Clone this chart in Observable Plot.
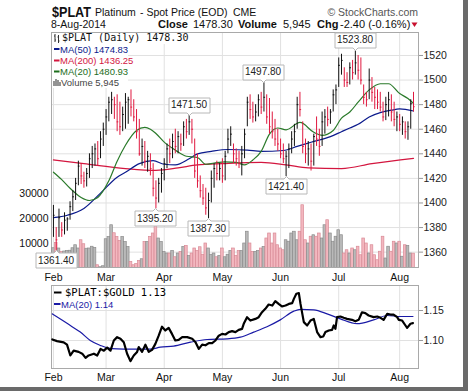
<!DOCTYPE html>
<html><head><meta charset="utf-8">
<script src="https://cdn.jsdelivr.net/npm/d3@7"></script>
<script src="https://cdn.jsdelivr.net/npm/@observablehq/plot@0.6"></script>
<style>
body{margin:0;background:#fff}
#wrap{position:relative;width:468px;height:391px;overflow:hidden;background:#fff}
.layer{position:absolute;left:0}
.layer svg{display:block}
</style></head><body>
<div id="wrap">
 <div id="bg" class="layer" style="top:0"></div>
 <div id="vol" class="layer" style="top:0"></div>
 <div id="px" class="layer" style="top:0"></div>
 <div id="ratio" class="layer" style="top:285px"></div>
 <svg id="ov" class="layer" style="top:0" width="468" height="391" font-family="'Liberation Sans', Arial, sans-serif">
  <!-- header -->
  <text x="52" y="16.5" font-size="14" font-weight="bold" fill="#111" textLength="39" lengthAdjust="spacingAndGlyphs">$PLAT</text>
  <text x="95" y="16" font-size="10.5" fill="#111">Platinum</text>
  <text x="140" y="16" font-size="10.5" fill="#111">- Spot Price (EOD)</text>
  <text x="233" y="16" font-size="10.5" fill="#111">CME</text>
  <text x="418" y="16" font-size="10.5" fill="#555" text-anchor="end">© StockCharts.com</text>
  <text x="51" y="28" font-size="10.5" fill="#111">8-Aug-2014</text>
  <text x="158" y="28" font-size="11" font-weight="bold" fill="#111">Close</text>
  <text x="193" y="28" font-size="11" fill="#111">1478.30</text>
  <text x="238" y="28" font-size="11" font-weight="bold" fill="#111">Volume</text>
  <text x="283" y="28" font-size="11" fill="#111">5,945</text>
  <text x="317" y="28" font-size="11" font-weight="bold" fill="#111">Chg</text>
  <text x="340" y="28" font-size="11" fill="#111">-2.40 (-0.16%)</text>
  <path d="M411.5,22.5 L417.5,22.5 L414.5,27 Z" fill="#c8102e"/>
  <!-- main legend -->
  <rect x="52" y="33" width="140" height="11" fill="#fff"/>
  <rect x="52" y="43" width="76" height="45" fill="#fff"/>
  <path d="M55,34 V42 M54,36 H55 M55,40 H56 M58.5,35 V43 M57.5,37 H58.5 M58.5,41 H59.5" stroke="#333" stroke-width="1" fill="none"/>
  <text x="62" y="40.5" font-family="'DejaVu Sans Mono', monospace" font-size="10" fill="#111">$PLAT (Daily) 1478.30</text>
  <line x1="54" y1="49" x2="59.5" y2="49" stroke="#0b1a8c" stroke-width="2"/>
  <text x="60" y="52.5" font-size="9.5" fill="#0b1a8c">MA(50) 1474.83</text>
  <line x1="54" y1="60.5" x2="59.5" y2="60.5" stroke="#d3163f" stroke-width="2"/>
  <text x="60" y="64" font-size="9.5" fill="#d3163f">MA(200) 1436.25</text>
  <line x1="54" y1="71.5" x2="59.5" y2="71.5" stroke="#1d6e1d" stroke-width="2"/>
  <text x="60" y="75" font-size="9.5" fill="#1d6e1d">MA(20) 1480.93</text>
  <path d="M54,86 V81 M56,86 V79 M58,86 V80 M60,86 V82" stroke="#666" stroke-width="1.4" fill="none"/>
  <text x="61" y="86" font-size="9.5" fill="#444">Volume 5,945</text>
  <!-- ratio legend -->
  <line x1="54" y1="292.5" x2="61.5" y2="292.5" stroke="#000" stroke-width="2"/>
  <text x="65" y="296" font-family="'DejaVu Sans Mono', monospace" font-size="10.5" fill="#000">$PLAT:$GOLD 1.13</text>
  <line x1="54" y1="304" x2="60.5" y2="304" stroke="#1a1aa6" stroke-width="2"/>
  <text x="61" y="307.5" font-size="9.5" fill="#1a1aa6">MA(20) 1.14</text>
  <!-- frame shadow -->
  <rect x="463" y="0" width="5" height="391" fill="#6a6a6a"/>
  <rect x="0" y="387" width="468" height="4" fill="#6a6a6a"/>
 </svg>
</div>
<script>
// ---------- data ----------
const monthStart = [0, 19, 40, 61, 82, 103, 125];
const monthLabels = ["Feb", "Mar", "Apr", "May", "Jun", "Jul", "Aug"];
const priceTicks = [1360, 1380, 1400, 1420, 1440, 1460, 1480, 1500, 1520];
const volumeTicks = [10000, 20000, 30000];
const ratioTicks = [1.10, 1.15];

const high = [1398,1380,1395,1384,1392,1388,1401,1410,1420,1434,1432,1425,1428,1440,1446,1448,1450,1458,1465,
1476,1486,1490,1486,1488,1482,1478,1489,1486,1492,1484,1476,1468,1452,1450,1442,1440,1432,1418,1420,1428,
1436,1448,1452,1456,1460,1458,1456,1466,1468,1471.5,1468,1452,1440,1422,1415,1412,1408,1426,1432,1434,1432,
1436,1442,1460,1462,1448,1444,1442,1446,1460,1486,1488,1482,1480,1488,1490,1497.8,1488,1485,1474,1468,1460,
1452,1448,1442,1448,1458,1464,1486,1490,1466,1452,1450,1448,1456,1470,1460,1474,1476,1478,1476,1492,1496,
1518,1521,1510,1506,1514,1516,1523.8,1520,1518,1496,1490,1509,1502,1494,1492,1490,1482,1486,1490,1488,1482,1474,
1472,1470,1466,1466,1484,1490];
const low = [1372,1361.4,1372,1372,1374,1377,1386,1393,1402,1414,1415,1412,1413,1420,1428,1430,1430,1436,1446,
1455,1466,1472,1468,1458,1455,1458,1460,1464,1470,1466,1452,1438,1430,1428,1425,1422,1405,1395.2,1400,1408,
1418,1428,1432,1436,1440,1440,1442,1446,1452,1455,1448,1420,1412,1404,1398,1390,1387.3,1400,1412,1418,1418,
1416,1418,1440,1446,1432,1430,1428,1422,1436,1462,1468,1465,1466,1470,1472,1474,1464,1456,1452,1446,1442,
1436,1432,1421.4,1428,1440,1446,1460,1470,1440,1432,1430,1426,1430,1446,1438,1446,1456,1462,1464,1474,1480,
1494,1504,1494,1494,1496,1500,1504,1500,1496,1480,1478,1484,1482,1476,1476,1474,1466,1467,1470,1466,1462,1458,
1458,1455,1452,1451,1460,1474];
const close = [1390,1370,1388,1378,1386,1387,1397,1405,1416,1430,1422,1418,1424,1436,1440,1444,1436,1452,1460,
1470,1482,1484,1480,1466,1462,1472,1482,1484,1478,1470,1458,1440,1446,1434,1438,1428,1412,1404,1416,1424,
1432,1444,1440,1450,1446,1454,1448,1462,1458,1466,1460,1426,1418,1410,1404,1396,1402,1420,1428,1424,1428,
1422,1438,1452,1456,1440,1436,1432,1440,1456,1482,1476,1470,1474,1484,1478,1486,1470,1462,1458,1452,1448,
1440,1436,1438,1444,1452,1458,1480,1476,1446,1440,1444,1434,1454,1452,1446,1466,1470,1468,1474,1488,1492,
1512,1516,1500,1498,1510,1506,1514,1508,1500,1486,1484,1500,1490,1486,1482,1478,1470,1480,1484,1474,1468,1470,
1464,1466,1458,1462,1480.7,1478.3];
const volume = [8100,10200,8000,6600,6800,7000,7100,8100,9300,8000,11300,9700,7900,8000,8700,8200,1300,500,900,
11700,12600,17300,14100,12600,11000,12600,10600,8600,2600,1300,1800,3000,3700,10600,10600,12600,14000,17500,12000,10600,
6600,6000,6000,7000,4500,6000,6600,8600,9000,5000,6000,8000,7000,8500,5500,10000,8000,5500,6000,4500,5000,
8000,4500,5500,7000,8000,5000,7000,7000,10000,14700,10000,6600,6600,7000,8000,8600,12000,14000,10000,14000,9300,
8000,7300,11300,10700,14000,14700,11300,14700,25300,11300,10000,12700,13300,12700,14000,12000,17300,19300,14000,10700,12700,
15300,13300,6000,7300,6000,8000,7300,8700,5300,12000,10000,6000,9300,5300,3300,6700,12700,4000,8700,6700,10700,10000,
10700,4700,9300,9000,6000,5945];

const ma50Day   = [0,5,11,17,23,26,31,36,40,44,49,52,57,63,70,75,83,88,93,100,104,107,110,114,118,122,125,130];
const ma50Value = [1388,1390,1395.5,1408,1421,1425,1432,1434.5,1431.5,1431,1436,1440,1442,1443.5,1443,1442,1442.7,1446,1449.4,1454,1458,1461,1464,1470,1473.5,1475.5,1476.5,1474.83];
const ma200Day   = [0,11,26,37,45,52,61,75,84,92,104,115,130];
const ma200Value = [1435,1432,1428,1426.5,1428.5,1431,1432,1433,1431,1428.5,1428,1432,1436.25];
const ma20Day   = [0,3,6,10,13,16,20,23,26,30,33,35,37,40,44,48,52,55,58,62,66,69,72,75,78,81,84,89,94,97,101,104,107,110,114,118,121,125,128,130];
const ma20Value = [1425,1419,1412,1404.5,1402,1404.5,1418,1434,1447,1459,1461.5,1460,1456.5,1449.5,1443,1438,1437,1431.5,1432.5,1433.5,1433,1431,1435,1442,1456,1461,1459.5,1465.5,1457.5,1455,1459,1469,1474,1482,1492,1497,1497,1489,1485,1480.93];

const ratioDay = [-0.4,1.3,3.7,4.9,6.1,7.3,9.1,10.4,11.6,12.7,14.6,15.8,17,18.2,19.4,20.6,21.8,23,24.2,25.4,26.6,27.8,29,30.2,30.8,32,33.2,34.4,35.6,36.8,38,39.2,40.4,41.6,42.8,44,45.2,46.5,48.3,50.1,51.3,52.5,53.7,54.9,56.1,57.3,58.5,59.7,60.9,62.1,63.3,64.5,65.7,66.9,68.1,68.7,69.9,71.1,72.9,74.1,75.3,76.5,77.7,79,80.1,81.3,82.5,83.8,85,86.2,86.8,87.7,88.6,89.2,90.4,91.6,92.8,94,95.2,96.4,97.4,98.2,99.4,100.6,101.2,101.8,102.4,103.6,104.8,106,107.8,109,110.2,111.4,112.6,113.8,115.6,116.9,118.1,119.2,120.5,121.7,122.8,124.1,124.7,125.9,127.1,127.7,128.9,129.8];
const ratioValue = [1.1017,1.099,1.097,1.093,1.075,1.083,1.081,1.078,1.071,1.075,1.078,1.075,1.086,1.083,1.088,1.083,1.1,1.1056,1.103,1.097,1.078,1.0656,1.075,1.081,1.089,1.081,1.093,1.081,1.0844,1.0944,1.108,1.123,1.1167,1.121,1.111,1.1,1.101,1.1056,1.1056,1.1028,1.097,1.086,1.093,1.092,1.0956,1.0956,1.1,1.108,1.111,1.11,1.114,1.1156,1.114,1.1178,1.1194,1.1278,1.1389,1.1333,1.136,1.1389,1.1472,1.1528,1.16,1.1583,1.1656,1.161,1.1567,1.1583,1.161,1.1622,1.1694,1.178,1.179,1.161,1.1306,1.125,1.1333,1.136,1.114,1.1056,1.1067,1.114,1.1167,1.1178,1.125,1.1194,1.1389,1.14,1.1378,1.136,1.1344,1.132,1.1344,1.147,1.1456,1.1417,1.139,1.14,1.1378,1.1344,1.1444,1.1433,1.1433,1.139,1.1344,1.1333,1.125,1.121,1.128,1.129];
const ratioMaDay   = [-0.4,2.5,6.1,9.7,13.3,17,19.4,23,27.8,35,38.6,43.4,49.5,55.5,62.7,67.5,72.3,77.1,81.9,86.8,89.2,94,98.8,103.6,109.6,115.6,120.5,125.3,129.8];
const ratioMaValue = [1.1444,1.136,1.125,1.114,1.1,1.0917,1.0878,1.086,1.0856,1.0856,1.0889,1.0906,1.0972,1.1017,1.1028,1.1056,1.114,1.123,1.1344,1.149,1.152,1.151,1.1444,1.136,1.128,1.1344,1.1417,1.14,1.14];

const highLabelDay = [49, 76, 109];
const highLabelValue = [1471.5, 1497.8, 1523.8];
const lowLabelDay = [1, 37, 56, 84];
const lowLabelValue = [1361.4, 1395.2, 1387.3, 1421.4];

// ---------- tables ----------
const UP = "#111111", DOWN = "#e0183f";
const bars = close.map((c, i) => ({i, h: high[i], l: low[i], c, up: i === 0 || c >= close[i - 1]}));
const vols = volume.map((v, i) => ({i, v, up: bars[i].up}));
const pts = (d, v) => d.map((x, k) => ({x, y: v[k]}));
const hiLab = highLabelDay.map((x, k) => ({x, y: highLabelValue[k]}));
const loLab = lowLabelDay.map((x, k) => ({x, y: lowLabelValue[k]}));

const FONT = "'Liberation Sans', Arial, sans-serif";
const xDom = [-0.7, 131.8];
const priceDom = [1347.5, 1538.7];
function main(opts) {
  return Object.assign({
    width: 468, height: 285, marginTop: 32, marginRight: 50, marginBottom: 18, marginLeft: 51,
    x: {domain: xDom, axis: null},
    color: {type: "identity"},
    style: {background: "transparent", fontFamily: FONT, fontSize: "10.5px", color: "#222", overflow: "visible"}
  }, opts);
}
const monthFmt = d => monthLabels[monthStart.indexOf(d)];

// background grid + axes
document.getElementById("bg").append(Plot.plot(main({
  y: {domain: priceDom, axis: null},
  style: {background: "white", fontFamily: FONT, fontSize: "10.5px", color: "#222"},
  marks: [
    Plot.ruleX(monthStart, {stroke: "#e1e1e1"}),
    Plot.ruleY(priceTicks, {stroke: "#e1e1e1"}),
    Plot.axisX(monthStart, {anchor: "bottom", tickSize: 0, tickPadding: 6, tickFormat: monthFmt, label: null, fill: "#111"}),
    Plot.axisY(priceTicks, {anchor: "right", tickSize: 4, tickPadding: 1, stroke: "#999", fill: "#222", label: null, tickFormat: d => String(d)}),
    Plot.frame({stroke: "#a9a9a9"})
  ]
})));

// volume
document.getElementById("vol").append(Plot.plot(main({
  y: {domain: [400, 94400], axis: null},
  marks: [
    Plot.rectY(vols, {x1: d => d.i - 0.48, x2: d => d.i + 0.48, y: "v",
      fill: d => d.up ? "#b9b9b9" : "#f3b7bf", stroke: d => d.up ? "#8c8c8c" : "#d98a96", strokeWidth: 0.7, clip: true}),
    Plot.axisY(volumeTicks, {anchor: "left", tickSize: 0, tickPadding: 3, label: null, tickFormat: d => String(d), fill: "#111"})
  ]
})));

// price bars, MAs, labels
const tipOpts = {fill: "white", stroke: "#b8b8b8", fontSize: 10, textPadding: 2, pointerSize: 5, pathFilter: "none"};
document.getElementById("px").append(Plot.plot(main({
  y: {domain: priceDom, axis: null},
  marks: [
    Plot.line(pts(ma200Day, ma200Value), {x: "x", y: "y", stroke: "#d3163f", strokeWidth: 1.2, curve: "monotone-x"}),
    Plot.line(pts(ma50Day, ma50Value), {x: "x", y: "y", stroke: "#0b1a8c", strokeWidth: 1.2, curve: "monotone-x"}),
    Plot.line(pts(ma20Day, ma20Value), {x: "x", y: "y", stroke: "#2a7a2a", strokeWidth: 1.2, curve: "monotone-x"}),
    Plot.ruleX(bars, {x: "i", y1: "l", y2: "h", stroke: d => d.up ? UP : DOWN, strokeWidth: 1}),
    Plot.ruleY(bars, {x1: "i", x2: d => d.i + 0.6, y: "c", stroke: d => d.up ? UP : DOWN, strokeWidth: 1}),
    Plot.tip(hiLab, {x: "x", y: "y", title: d => d.y.toFixed(2), anchor: "bottom", ...tipOpts}),
    Plot.tip(loLab, {x: "x", y: "y", title: d => d.y.toFixed(2), anchor: "top", ...tipOpts})
  ]
})));

// ratio panel
document.getElementById("ratio").append(Plot.plot({
  width: 468, height: 106, marginTop: 0, marginRight: 50, marginBottom: 23, marginLeft: 51,
  x: {domain: xDom, axis: null},
  y: {domain: [1.0533, 1.1917], axis: null},
  style: {background: "transparent", fontFamily: FONT, fontSize: "10.5px", color: "#222"},
  marks: [
    Plot.ruleX(monthStart, {stroke: "#e1e1e1"}),
    Plot.ruleY(ratioTicks, {stroke: "#e1e1e1"}),
    Plot.frame({stroke: "#a9a9a9"}),
    Plot.line(pts(ratioMaDay, ratioMaValue), {x: "x", y: "y", stroke: "#1a1aa6", strokeWidth: 1.2, curve: "monotone-x"}),
    Plot.line(pts(ratioDay, ratioValue), {x: "x", y: "y", stroke: "#000", strokeWidth: 2.2}),
    Plot.axisX(monthStart, {anchor: "bottom", tickSize: 0, tickPadding: 5, tickFormat: monthFmt, label: null, fill: "#111"}),
    Plot.axisY(ratioTicks, {anchor: "right", tickSize: 4, tickPadding: 1, stroke: "#999", fill: "#222", label: null, tickFormat: d => d.toFixed(2)})
  ]
}));
</script>
</body></html>
